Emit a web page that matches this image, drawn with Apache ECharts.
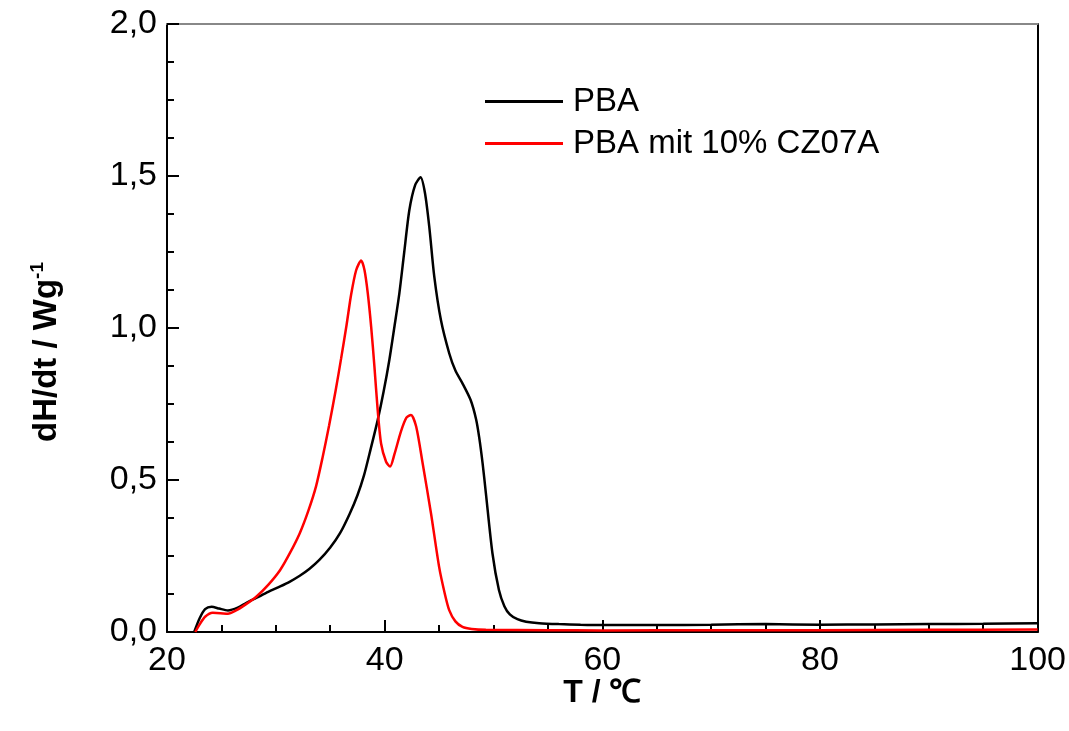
<!DOCTYPE html>
<html>
<head>
<meta charset="utf-8">
<script src="https://cdn.jsdelivr.net/npm/echarts@6/dist/echarts.min.js"></script>
<style>html,body{margin:0;padding:0;background:#fff}#c{width:1069px;height:731px}</style>
</head>
<body>
<div id="c"></div>
<script>
// PBA
const pbaT = [22.5,23.0,23.5,24.1,24.8,25.6,26.5,27.3,28.2,29.3,30.4,31.3,32.2,33.1,34.0,35.0,35.9,36.8,37.5,38.1,38.7,39.36,39.9,40.43,40.9,41.35,41.8,42.27,42.8,43.3,43.7,44.1,44.56,45.17,45.93,46.5,47.15,47.9,48.4,48.68,49.0,49.3,49.9,50.5,51.0,51.5,52.2,53.0,54.2,56,58,60,65,70,75,80,85,90,95,100];
const pbaY = [0,0.045,0.075,0.083,0.077,0.071,0.080,0.096,0.112,0.132,0.150,0.166,0.185,0.208,0.237,0.278,0.325,0.39,0.45,0.515,0.60,0.697,0.79,0.895,1.005,1.114,1.25,1.388,1.47,1.496,1.445,1.333,1.169,1.026,0.917,0.86,0.818,0.763,0.70,0.642,0.555,0.457,0.26,0.138,0.085,0.058,0.042,0.034,0.029,0.026,0.024,0.023,0.023,0.024,0.026,0.024,0.025,0.026,0.027,0.029];
// PBA mit 10% CZ07A
const czT = [22.6,23.0,23.5,24.2,24.9,25.6,26.3,27.2,28.2,29.3,30.4,31.3,32.2,33.0,33.7,34.3,34.9,35.5,36.0,36.5,36.92,37.38,37.84,38.15,38.45,38.76,39.06,39.36,39.67,40.13,40.5,40.9,41.5,42.0,42.42,42.9,43.49,44.26,45.0,45.5,45.93,46.5,47.15,48,49.3,55,60,70,80,90,100];
const czY = [0,0.025,0.05,0.063,0.062,0.060,0.070,0.09,0.116,0.155,0.204,0.26,0.325,0.40,0.48,0.575,0.68,0.795,0.90,1.01,1.11,1.19,1.222,1.19,1.114,1.004,0.873,0.73,0.62,0.56,0.544,0.585,0.66,0.705,0.714,0.675,0.555,0.39,0.215,0.13,0.072,0.035,0.017,0.01,0.007,0.006,0.005,0.006,0.006,0.007,0.008];
const seriesNames = ['PBA','PBA mit 10% CZ07A'];
const xTicks = [20,40,60,80,100];
const yTicks = [0,0.5,1.0,1.5,2.0];

const zip = (a,b) => a.map((v,i)=>[v,b[i]]);
const font = 'Liberation Sans, Arial, sans-serif';
const chart = echarts.init(document.getElementById('c'));
chart.setOption({
  animation:false,
  grid:{left:167,right:29,top:24,bottom:99},
  legend:{
    orient:'vertical', left:480, top:80, itemGap:9,
    itemWidth:78, itemHeight:3, icon:'rect',
    textStyle:{fontFamily:font,fontSize:33,color:'#000',padding:[0,0,0,5]},
    data:seriesNames
  },
  xAxis:[{
    type:'value', min:xTicks[0], max:xTicks[xTicks.length-1], interval:20,
    name:'T / ℃', nameLocation:'middle', nameGap:45, nameMoveOverlap:false,
    nameTextStyle:{fontFamily:font,fontSize:32,fontWeight:'bold',color:'#000'},
    axisLine:{lineStyle:{color:'#000',width:2}},
    axisTick:{inside:true,length:12,lineStyle:{color:'#000',width:2}},
    minorTick:{show:true,splitNumber:4,length:7,lineStyle:{color:'#000',width:2}},
    splitLine:{show:false},
    axisLabel:{fontFamily:font,fontSize:34,color:'#000',margin:12}
  },{
    type:'value', position:'top', min:20, max:100,
    axisLine:{show:true,onZero:false,lineStyle:{color:'#888',width:2}},
    axisTick:{show:false}, axisLabel:{show:false}, splitLine:{show:false}
  }],
  yAxis:[{
    type:'value', min:yTicks[0], max:yTicks[yTicks.length-1], interval:0.5,
    name:'dH/dt / Wg{sup|-1}', nameLocation:'middle', nameGap:102, nameRotate:90,
    nameTextStyle:{fontFamily:font,fontSize:33,fontWeight:'bold',color:'#000',padding:[0,48,0,0],
      rich:{sup:{fontFamily:font,fontSize:19,fontWeight:'bold',color:'#000',verticalAlign:'top',padding:[0,0,18,0]}}},
    axisLine:{show:true,lineStyle:{color:'#000',width:2}},
    axisTick:{inside:true,length:12,lineStyle:{color:'#000',width:2}},
    minorTick:{show:true,splitNumber:4,length:7,lineStyle:{color:'#000',width:2}},
    splitLine:{show:false},
    axisLabel:{fontFamily:font,fontSize:34,color:'#000',margin:10,
      formatter:v=>v.toFixed(1).replace('.',',')}
  },{
    type:'value', position:'right', min:0, max:2,
    axisLine:{show:true,onZero:false,lineStyle:{color:'#000',width:2}},
    axisTick:{show:false}, axisLabel:{show:false}, splitLine:{show:false}
  }],
  series:[
    {name:seriesNames[0],type:'line',data:zip(pbaT,pbaY),smooth:0.25,showSymbol:false,
     lineStyle:{color:'#000',width:2.5},itemStyle:{color:'#000'}},
    {name:seriesNames[1],type:'line',data:zip(czT,czY),smooth:0.25,showSymbol:false,
     lineStyle:{color:'#ff0000',width:2.5},itemStyle:{color:'#ff0000'}}
  ]
});
</script>
</body>
</html>
